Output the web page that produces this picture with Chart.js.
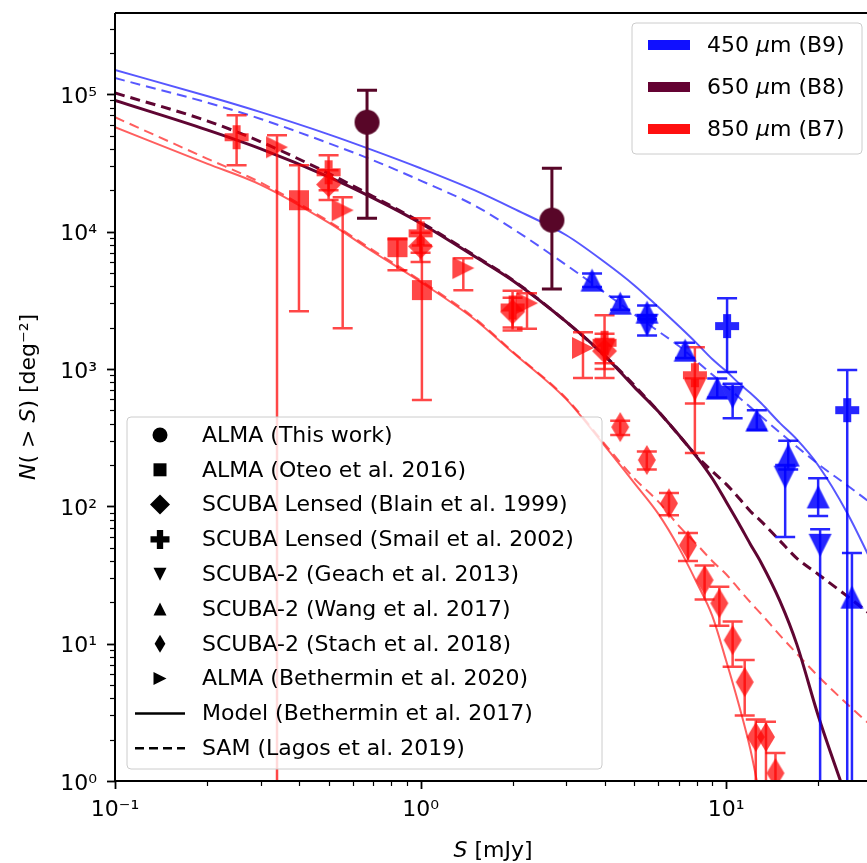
<!DOCTYPE html>
<html>
<head>
<meta charset="utf-8">
<script src="https://cdn.jsdelivr.net/npm/chart.js@4.4.1/dist/chart.umd.min.js"></script>
<style>
    html, body { margin: 0; padding: 0; background: #fff; }
    canvas { display: block; }
</style>
</head>
<body>
<canvas id="grafico" width="867" height="863"></canvas>
<script>
// Rejilla de flujos para las curvas (mJy)
const curvaS = [0.1, 0.2, 0.3, 0.5, 0.7, 1, 1.5, 2, 3, 4, 5, 6, 7, 8, 9, 10, 11, 12, 13, 15, 17, 20, 25, 30];

// Modelo (Bethermin et al. 2017) y SAM (Lagos et al. 2019), N(>S) en deg^-2
const modelo450 = [1.5e5, 9.7e4, 7.4e4, 5.1e4, 3.9e4, 2.89e4, 2.0e4, 1.48e4, 9.4e3, 6.0e3, 4.07e3, 2.82e3, 2.05e3, 1.54e3, 1.18e3, 964, 788, 667, 564, 403, 308, 199, 88, 39];
const sam450 = [1.31e5, 8.7e4, 6.6e4, 4.4e4, 3.3e4, 2.35e4, 1.55e4, 1.05e4, 5.7e3, 3.6e3, 2.5e3, 1.88e3, 1.47e3, 1.14e3, 910, 746, 622, 527, 452, 344, 272, 203, 141, 104];
const modelo650 = [9.0e4, 5.5e4, 4.0e4, 2.5e4, 1.75e4, 1.15e4, 6.6e3, 4.4e3, 2.2e3, 1.25e3, 740, 490, 330, 230, 160, 108, 75, 53, 39, 20.4, 10, 3.0, 0.7, 0.2];
const sam650 = [1.02e5, 6.4e4, 4.5e4, 2.65e4, 1.8e4, 1.17e4, 6.7e3, 4.45e3, 2.2e3, 1.25e3, 760, 490, 330, 232, 180, 145, 115, 92, 78, 56, 42, 32, 22, 16];
const modelo850 = [5.75e4, 3.12e4, 2.19e4, 1.16e4, 7.1e3, 4.3e3, 2.3e3, 1.32e3, 600, 276, 148, 88, 50, 28, 16, 7.5, 3.6, 1.7, 0.7, 0.15, 0.05, 0.02, 0.01, 0.005];
const sam850 = [6.8e4, 3.4e4, 2.27e4, 1.19e4, 7.3e3, 4.4e3, 2.35e3, 1.34e3, 610, 285, 160, 108, 72, 53, 40, 32, 25, 20, 16.5, 11.5, 8.5, 5.8, 3.6, 2.5];

// Observaciones: flujo, N, extremo inferior y superior de la barra de error
const estaObra650S = [0.668, 2.69];
const estaObra650N = [62500, 12100];
const estaObra650Lo = [12500, 3810];
const estaObra650Hi = [107000, 28900];

const oteo850S = [0.40, 0.84, 1.01];
const oteo850N = [16900, 7700, 3750];
const oteo850Lo = [2630, 5230, 593];
const oteo850Hi = [30400, 8800, 7900];

const blain850S = [0.5, 1.0, 2.0, 4.0];
const blain850N = [22000, 7800, 2600, 1350];
const blain850Lo = [17000, 6000, 2000, 1000];
const blain850Hi = [28000, 9800, 3300, 1800];

const smail850S = [0.25, 0.5, 1.0, 2.0, 4.0, 7.9];
const smail850N = [48600, 27000, 9700, 2800, 1550, 900];
const smail850Lo = [30400, 20000, 7000, 1900, 860, 244];
const smail850Hi = [70300, 36000, 12500, 3700, 2460, 1440];

const smail450S = [10.07, 24.9];
const smail450N = [2050, 501];
const smail450Lo = [948, 0.3];
const smail450Hi = [3270, 980];

const geach850S = [4.0, 7.9];
const geach850N = [1350, 700];
const geach850Lo = [1100, 560];
const geach850Hi = [1650, 850];

const geach450S = [5.51, 10.5, 15.6, 20.3];
const geach450N = [2080, 623, 163, 52];
const geach450Lo = [1750, 438, 59.7, 0.3];
const geach450Hi = [2450, 780, 200, 68];

const wang450S = [3.64, 4.50, 5.51, 7.34, 9.35, 12.6, 15.96, 20.0, 25.8];
const wang450N = [4430, 3010, 2590, 1370, 725, 424, 236, 117, 21.8];
const wang450Lo = [3950, 2700, 2300, 1200, 620, 360, 185, 85, 0.3];
const wang450Hi = [4950, 3350, 2900, 1550, 850, 500, 300, 160, 45.6];

const stach850S = [4.5, 5.5, 6.5, 7.5, 8.5, 9.5, 10.5, 11.5, 12.5, 13.5, 14.5];
const stach850N = [377, 217, 105, 52, 29, 19.7, 10.6, 5.25, 2.09, 2.09, 1.14];
const stach850Lo = [330, 185, 86, 40, 21, 13.5, 6.8, 3.0, 0.3, 0.3, 0.3];
const stach850Hi = [420, 250, 125, 64, 37, 26, 14.5, 7.6, 2.8, 2.7, 1.6];

const bethermin850S = [0.339, 0.556, 1.38, 2.23, 3.40];
const bethermin850N = [41100, 14300, 5420, 3010, 1420];
const bethermin850Lo = [0.3, 1980, 3740, 1960, 860];
const bethermin850Hi = [50300, 17800, 6400, 3560, 1850];

// Ejes
const ticksX = [0.1, 1, 10];
const etiquetasX = ["10⁻¹", "10⁰", "10¹"];
const ticksY = [1, 10, 100, 1000, 1e4, 1e5];
const etiquetasY = ["10⁰", "10¹", "10²", "10³", "10⁴", "10⁵"];

// Leyendas
const bandas = [
    [["450 ", false], ["μ", true], ["m (B9)", false]],
    [["650 ", false], ["μ", true], ["m (B8)", false]],
    [["850 ", false], ["μ", true], ["m (B7)", false]]
];
const estudios = [
    "ALMA (This work)",
    "ALMA (Oteo et al. 2016)",
    "SCUBA Lensed (Blain et al. 1999)",
    "SCUBA Lensed (Smail et al. 2002)",
    "SCUBA-2 (Geach et al. 2013)",
    "SCUBA-2 (Wang et al. 2017)",
    "SCUBA-2 (Stach et al. 2018)",
    "ALMA (Bethermin et al. 2020)",
    "Model (Bethermin et al. 2017)",
    "SAM (Lagos et al. 2019)"
];

const FUENTE = '"DejaVu Sans", sans-serif';
const AZUL = "rgba(0, 0, 255, 0.85)";
const AZUL_LINEA = "rgba(40, 40, 255, 0.78)";
const GRANATE = "rgb(88, 6, 40)";
const GRANATE_LINEA = "rgb(95, 5, 50)";
const ROJO = "rgba(255, 0, 0, 0.72)";
const ROJO_LINEA = "rgba(255, 40, 40, 0.75)";

function trazarForma(ctx, forma, x, y, t) {
    const h = t / 2;
    ctx.beginPath();
    switch (forma) {
        case "o":
            ctx.arc(x, y, h, 0, Math.PI * 2);
            break;
        case "s":
            ctx.rect(x - h, y - h, t, t);
            break;
        case "D":
            ctx.moveTo(x, y - h); ctx.lineTo(x + h, y); ctx.lineTo(x, y + h); ctx.lineTo(x - h, y);
            break;
        case "d":
            ctx.moveTo(x, y - h); ctx.lineTo(x + h * 0.6, y); ctx.lineTo(x, y + h); ctx.lineTo(x - h * 0.6, y);
            break;
        case "P": {
            const b = t / 6;
            const pts = [[-b, -h], [b, -h], [b, -b], [h, -b], [h, b], [b, b], [b, h], [-b, h], [-b, b], [-h, b], [-h, -b], [-b, -b]];
            pts.forEach(([dx, dy], i) => i ? ctx.lineTo(x + dx, y + dy) : ctx.moveTo(x + dx, y + dy));
            break;
        }
        case "^":
            ctx.moveTo(x, y - h); ctx.lineTo(x + h, y + h); ctx.lineTo(x - h, y + h);
            break;
        case "v":
            ctx.moveTo(x, y + h); ctx.lineTo(x + h, y - h); ctx.lineTo(x - h, y - h);
            break;
        case ">":
            ctx.moveTo(x + h, y); ctx.lineTo(x - h, y - h); ctx.lineTo(x - h, y + h);
            break;
    }
    ctx.closePath();
}

function marcador(forma, t, color) {
    const c = document.createElement("canvas");
    const lado = Math.ceil(t + 4);
    c.width = lado;
    c.height = lado;
    const g = c.getContext("2d");
    g.fillStyle = color;
    trazarForma(g, forma, lado / 2, lado / 2, t);
    g.fill();
    return c;
}

const puntos = (S, N, lo, hi) => S.map((s, i) => ({ x: s, y: N[i], lo: lo[i], hi: hi[i] }));
const curva = N => curvaS.map((s, i) => ({ x: s, y: N[i] }));

function serieMarcas(S, N, lo, hi, forma, t, color, colorError, anchoError) {
    return {
        type: "scatter",
        data: puntos(S, N, lo, hi),
        pointStyle: marcador(forma, t, color),
        pointRadius: t / 2,
        errores: true,
        colorError: colorError,
        anchoError: anchoError || 2.5,
        order: 1
    };
}

function serieCurva(N, color, ancho, discontinua) {
    return {
        type: "line",
        data: curva(N),
        borderColor: color,
        borderWidth: ancho,
        borderDash: discontinua ? [10, 6] : [],
        pointRadius: 0,
        fill: false,
        cubicInterpolationMode: "monotone",
        order: 10
    };
}

// Texto con tramos en cursiva (para S, N y μ)
function textoRico(ctx, partes, x, y, size, alinear) {
    const fuente = cursiva => `${cursiva ? "italic " : ""}${size}px ${FUENTE}`;
    let total = 0;
    partes.forEach(([t, c]) => { ctx.font = fuente(c); total += ctx.measureText(t).width; });
    let cx = alinear === "center" ? x - total / 2 : x;
    ctx.textAlign = "left";
    partes.forEach(([t, c]) => {
        ctx.font = fuente(c);
        ctx.fillText(t, cx, y);
        cx += ctx.measureText(t).width;
    });
}

const barrasError = {
    id: "barrasError",
    beforeDatasetDraw(chart, args) {
        const ds = chart.data.datasets[args.index];
        if (!ds.errores) {
            return;
        }
        const { ctx, chartArea: a, scales: { x, y } } = chart;
        ctx.save();
        ctx.beginPath();
        ctx.rect(a.left, a.top, a.right - a.left, a.bottom - a.top);
        ctx.clip();
        ctx.strokeStyle = ds.colorError;
        ctx.lineWidth = ds.anchoError;
        ds.data.forEach(p => {
            const px = x.getPixelForValue(p.x);
            const y1 = y.getPixelForValue(p.lo);
            const y2 = y.getPixelForValue(p.hi);
            ctx.beginPath();
            ctx.moveTo(px, y1); ctx.lineTo(px, y2);
            ctx.moveTo(px - 10, y1); ctx.lineTo(px + 10, y1);
            ctx.moveTo(px - 10, y2); ctx.lineTo(px + 10, y2);
            ctx.stroke();
        });
        ctx.restore();
    }
};

function cajaLeyenda(ctx, x, y, w, h) {
    const r = 4;
    ctx.beginPath();
    ctx.moveTo(x + r, y);
    ctx.arcTo(x + w, y, x + w, y + h, r);
    ctx.arcTo(x + w, y + h, x, y + h, r);
    ctx.arcTo(x, y + h, x, y, r);
    ctx.arcTo(x, y, x + w, y, r);
    ctx.closePath();
    ctx.fillStyle = "rgba(255, 255, 255, 0.8)";
    ctx.fill();
    ctx.strokeStyle = "#cccccc";
    ctx.lineWidth = 1;
    ctx.stroke();
}

const decoracion = {
    id: "decoracion",
    afterDraw(chart) {
        const { ctx, chartArea: a, scales: { x, y } } = chart;
        ctx.save();
        ctx.strokeStyle = "#000";

        // Marcas mayores y menores
        for (let d = -1; d <= 1; d++) {
            for (let m = 1; m <= 9; m++) {
                const v = m * Math.pow(10, d);
                if (v < x.min || v > x.max) continue;
                const px = Math.round(x.getPixelForValue(v)) + 0.5;
                ctx.lineWidth = m === 1 ? 1.8 : 1.2;
                ctx.beginPath();
                ctx.moveTo(px, a.bottom);
                ctx.lineTo(px, a.bottom + (m === 1 ? 8 : 5));
                ctx.stroke();
            }
        }
        for (let d = 0; d <= 5; d++) {
            for (let m = 1; m <= 9; m++) {
                const v = m * Math.pow(10, d);
                if (v < y.min || v > y.max) continue;
                const py = Math.round(y.getPixelForValue(v)) + 0.5;
                ctx.lineWidth = m === 1 ? 1.8 : 1.2;
                ctx.beginPath();
                ctx.moveTo(a.left, py);
                ctx.lineTo(a.left - (m === 1 ? 8 : 5), py);
                ctx.stroke();
            }
        }

        // Bordes
        ctx.lineWidth = 2;
        ctx.beginPath();
        ctx.moveTo(a.left, a.top);
        ctx.lineTo(a.right, a.top);
        ctx.moveTo(a.left, a.top);
        ctx.lineTo(a.left, a.bottom);
        ctx.lineTo(a.right, a.bottom);
        ctx.stroke();

        // Títulos de los ejes
        ctx.fillStyle = "#000";
        ctx.textBaseline = "alphabetic";
        textoRico(ctx, [["S", true], [" [mJy]", false]], 493, 857, 22, "center");
        ctx.save();
        ctx.translate(35, 397);
        ctx.rotate(-Math.PI / 2);
        textoRico(ctx, [["N", true], ["( > ", false], ["S", true], [") [deg⁻²]", false]], 0, 0, 22, "center");
        ctx.restore();

        // Leyenda de bandas
        cajaLeyenda(ctx, 632, 23, 230, 131);
        const coloresBanda = ["#1010ff", "rgb(100, 2, 50)", "#ff1010"];
        ctx.textBaseline = "middle";
        bandas.forEach((partes, i) => {
            const fy = 45 + i * 42;
            ctx.strokeStyle = coloresBanda[i];
            ctx.lineWidth = 10;
            ctx.beginPath();
            ctx.moveTo(648, fy);
            ctx.lineTo(690, fy);
            ctx.stroke();
            ctx.fillStyle = "#000";
            textoRico(ctx, partes, 707, fy + 1, 22, "left");
        });

        // Leyenda de estudios
        cajaLeyenda(ctx, 127, 417, 475, 352);
        const formas = [["o", 15], ["s", 13], ["D", 20], ["P", 19], ["v", 13], ["^", 13], ["d", 18], [">", 13]];
        estudios.forEach((texto, i) => {
            const fy = 435 + i * 34.8;
            ctx.fillStyle = "#000";
            if (i < formas.length) {
                trazarForma(ctx, formas[i][0], 160, fy, formas[i][1]);
                ctx.fill();
            } else {
                ctx.strokeStyle = "#000";
                ctx.lineWidth = 2.5;
                ctx.setLineDash(i === 9 ? [9, 5] : []);
                ctx.beginPath();
                ctx.moveTo(135, fy);
                ctx.lineTo(185, fy);
                ctx.stroke();
                ctx.setLineDash([]);
            }
            textoRico(ctx, [[texto, false]], 202, fy + 1, 22, "left");
        });
        ctx.restore();
    }
};

const canvas = document.getElementById("grafico");

new Chart(canvas, {
    type: "scatter",
    data: {
        datasets: [
            serieMarcas(estaObra650S, estaObra650N, estaObra650Lo, estaObra650Hi, "o", 25, GRANATE, GRANATE, 3),
            serieMarcas(smail450S, smail450N, smail450Lo, smail450Hi, "P", 24, AZUL, AZUL),
            serieMarcas(geach450S, geach450N, geach450Lo, geach450Hi, "v", 23, AZUL, AZUL),
            serieMarcas(wang450S, wang450N, wang450Lo, wang450Hi, "^", 23, AZUL, AZUL),
            serieMarcas(smail850S, smail850N, smail850Lo, smail850Hi, "P", 24, ROJO, ROJO),
            serieMarcas(blain850S, blain850N, blain850Lo, blain850Hi, "D", 25, ROJO, ROJO),
            serieMarcas(geach850S, geach850N, geach850Lo, geach850Hi, "v", 22, ROJO, ROJO),
            serieMarcas(bethermin850S, bethermin850N, bethermin850Lo, bethermin850Hi, ">", 22, ROJO, ROJO),
            serieMarcas(oteo850S, oteo850N, oteo850Lo, oteo850Hi, "s", 20, ROJO, ROJO),
            serieMarcas(stach850S, stach850N, stach850Lo, stach850Hi, "d", 30, ROJO, ROJO),
            serieCurva(modelo450, AZUL_LINEA, 2, false),
            serieCurva(sam450, AZUL_LINEA, 2, true),
            serieCurva(modelo650, GRANATE_LINEA, 3, false),
            serieCurva(sam650, GRANATE_LINEA, 3, true),
            serieCurva(modelo850, ROJO_LINEA, 2, false),
            serieCurva(sam850, ROJO_LINEA, 2, true)
        ]
    },
    options: {
        responsive: false,
        animation: false,
        devicePixelRatio: 1,
        events: [],
        layout: {
            autoPadding: false,
            padding: { top: 13, right: 0, bottom: 0, left: 0 }
        },
        plugins: {
            legend: { display: false },
            tooltip: { enabled: false }
        },
        scales: {
            x: {
                type: "logarithmic",
                min: 0.1,
                max: 28.9,
                grid: { display: false, drawTicks: false },
                border: { display: false },
                afterBuildTicks: s => { s.ticks = ticksX.map(v => ({ value: v })); },
                afterFit: s => {
                    s.height = 82;
                    s.paddingLeft = 0;
                    s.paddingRight = 0;
                },
                ticks: {
                    autoSkip: false,
                    maxRotation: 0,
                    padding: 16,
                    color: "#000",
                    font: { family: FUENTE, size: 22 },
                    callback: (v, i) => etiquetasX[i]
                }
            },
            y: {
                type: "logarithmic",
                min: 1,
                max: 3.9e5,
                grid: { display: false, drawTicks: false },
                border: { display: false },
                afterBuildTicks: s => { s.ticks = ticksY.map(v => ({ value: v })); },
                afterFit: s => {
                    s.width = 115;
                    s.paddingTop = 0;
                    s.paddingBottom = 0;
                },
                ticks: {
                    autoSkip: false,
                    padding: 18,
                    labelOffset: 3,
                    color: "#000",
                    font: { family: FUENTE, size: 22 },
                    callback: (v, i) => etiquetasY[i]
                }
            }
        }
    },
    plugins: [barrasError, decoracion]
});
</script>
</body>
</html>
